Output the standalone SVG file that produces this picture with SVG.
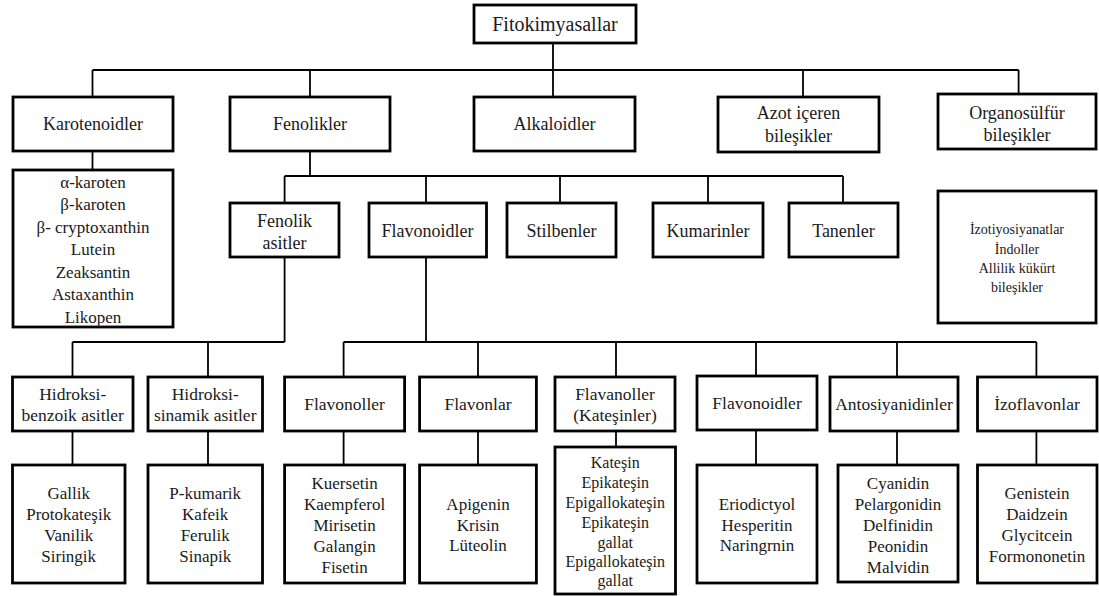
<svg xmlns="http://www.w3.org/2000/svg" width="1099" height="596" viewBox="0 0 1099 596" font-family="Liberation Serif, Times New Roman, serif">
<style>
.box{fill:#fff;stroke:#000;stroke-width:2.8}
.ln{fill:none;stroke:#000;stroke-width:1.8}
text{fill:#1a1a1a;text-anchor:middle}
.t0{font-size:20px}
.t1{font-size:18px}
.t2{font-size:17.5px}
.l{font-size:17px}
.s{font-size:16px}
.xs{font-size:14px}
</style>
<rect width="1099" height="596" fill="#fff"/>
<g id="connectors">
<path class="ln" d="M553,43V70M92.5,70H1018.6M92.5,70V97M310,70V97M553,70V97M803,70V97M1018.6,70V94"/>
<path class="ln" d="M92.5,151V170"/>
<path class="ln" d="M310,151V176M284.6,176H843M284.6,176V203M426,176V203M560,176V203M708,176V203M843,176V203"/>
<path class="ln" d="M284.6,257V342M72.5,342H284.6M72.5,342V377M208,342V377"/>
<path class="ln" d="M426,257V342M343.6,342H1036.4M343.6,342V377M478,342V377M616,342V377M756,342V377M897,342V377M1036.4,342V377"/>
<path class="ln" d="M72.5,431V465M208,431V465M343.6,431V465M478,431V465M616,431V447M756,431V465M897,431V465M1036.4,431V465"/>
</g>
<g id="fitokimyasallar"><rect class="box" x="474" y="5" width="162" height="38"/><text class="t0" x="555" y="31">Fitokimyasallar</text></g>
<g id="karotenoidler"><rect class="box" x="13" y="97" width="160" height="54"/><text class="t1" x="93" y="130">Karotenoidler</text></g>
<g id="fenolikler"><rect class="box" x="230" y="97" width="160" height="54"/><text class="t1" x="310" y="130">Fenolikler</text></g>
<g id="alkaloidler"><rect class="box" x="474" y="97" width="161" height="54"/><text class="t1" x="554.5" y="130">Alkaloidler</text></g>
<g id="azot"><rect class="box" x="718" y="97" width="161" height="55"/><text class="t1" x="798.5" y="119">Azot içeren</text><text class="t1" x="798.5" y="142">bileşikler</text></g>
<g id="organosulfur"><rect class="box" x="938" y="94" width="158" height="55"/><text class="t1" x="1017" y="118.5">Organosülfür</text><text class="t1" x="1017" y="141">bileşikler</text></g>
<g id="karotenoid-list"><rect class="box" x="13" y="170" width="160" height="157"/>
<text class="l" x="93" y="187.5">α-karoten</text><text class="l" x="93" y="210">β-karoten</text><text class="l" x="93" y="232.5">β- cryptoxanthin</text><text class="l" x="93" y="255">Lutein</text><text class="l" x="93" y="277.5">Zeaksantin</text><text class="l" x="93" y="300">Astaxanthin</text><text class="l" x="93" y="322.5">Likopen</text></g>
<g id="fenolik-asitler"><rect class="box" x="230" y="203" width="109" height="54"/><text class="t1" x="284.5" y="227">Fenolik</text><text class="t1" x="284.5" y="249">asitler</text></g>
<g id="flavonoidler"><rect class="box" x="369" y="203" width="117.5" height="54"/><text class="t1" x="427.5" y="237">Flavonoidler</text></g>
<g id="stilbenler"><rect class="box" x="507" y="203" width="109" height="54"/><text class="t1" x="561.5" y="237">Stilbenler</text></g>
<g id="kumarinler"><rect class="box" x="653" y="203" width="110" height="54"/><text class="t1" x="708" y="237">Kumarinler</text></g>
<g id="tanenler"><rect class="box" x="789" y="203" width="109" height="54"/><text class="t1" x="843.5" y="237">Tanenler</text></g>
<g id="organosulfur-list"><rect class="box" x="938" y="191" width="158" height="132"/>
<text class="xs" x="1017" y="234">İzotiyosiyanatlar</text><text class="xs" x="1017" y="253.5">İndoller</text><text class="xs" x="1017" y="273">Allilik  kükürt</text><text class="xs" x="1017" y="292">bileşikler</text></g>
<g id="hidroksi-benzoik"><rect class="box" x="12.5" y="377" width="120.5" height="54"/><text class="t2" x="72.7" y="400">Hidroksi-</text><text class="t2" x="72.7" y="421">benzoik asitler</text></g>
<g id="hidroksi-sinamik"><rect class="box" x="148" y="377" width="114.5" height="54"/><text class="t2" x="205.2" y="400">Hidroksi-</text><text class="t2" x="205.2" y="421">sinamik asitler</text></g>
<g id="flavonoller"><rect class="box" x="284.6" y="377" width="120" height="54"/><text class="t2" x="344.6" y="410">Flavonoller</text></g>
<g id="flavonlar"><rect class="box" x="419.6" y="377" width="116.8" height="54"/><text class="t2" x="478" y="410">Flavonlar</text></g>
<g id="flavanoller"><rect class="box" x="555" y="377" width="120" height="54"/><text class="t2" x="615" y="400">Flavanoller</text><text class="t2" x="615" y="421">(Kateşinler)</text></g>
<g id="flavonoidler2"><rect class="box" x="697" y="376" width="120" height="54"/><text class="t2" x="757" y="409">Flavonoidler</text></g>
<g id="antosiyanidinler"><rect class="box" x="830" y="377" width="128" height="54"/><text class="t2" x="894" y="410">Antosiyanidinler</text></g>
<g id="izoflavonlar"><rect class="box" x="977.5" y="377" width="119.5" height="54"/><text class="t2" x="1037" y="410">İzoflavonlar</text></g>
<g id="benzoik-list"><rect class="box" x="12.5" y="465" width="112.5" height="118"/>
<text class="l" x="68.7" y="499">Gallik</text><text class="l" x="68.7" y="520">Protokateşik</text><text class="l" x="68.7" y="541">Vanilik</text><text class="l" x="68.7" y="562">Siringik</text></g>
<g id="sinamik-list"><rect class="box" x="148" y="465" width="114.5" height="118"/>
<text class="l" x="205.2" y="499">P-kumarik</text><text class="l" x="205.2" y="520">Kafeik</text><text class="l" x="205.2" y="541">Ferulik</text><text class="l" x="205.2" y="562">Sinapik</text></g>
<g id="flavonol-list"><rect class="box" x="284.6" y="465" width="120" height="118"/>
<text class="l" x="344.6" y="489">Kuersetin</text><text class="l" x="344.6" y="510">Kaempferol</text><text class="l" x="344.6" y="531">Mirisetin</text><text class="l" x="344.6" y="552">Galangin</text><text class="l" x="344.6" y="573">Fisetin</text></g>
<g id="flavon-list"><rect class="box" x="419.6" y="465" width="116.8" height="118"/>
<text class="l" x="478" y="510">Apigenin</text><text class="l" x="478" y="530.5">Krisin</text><text class="l" x="478" y="551">Lüteolin</text></g>
<g id="katesin-list"><rect class="box" x="555" y="447" width="120.5" height="147"/>
<text class="s" x="615.2" y="468">Kateşin</text><text class="s" x="615.2" y="488">Epikateşin</text><text class="s" x="615.2" y="508">Epigallokateşin</text><text class="s" x="615.2" y="528">Epikateşin</text><text class="s" x="615.2" y="547.5">gallat</text><text class="s" x="615.2" y="567">Epigallokateşin</text><text class="s" x="615.2" y="586">gallat</text></g>
<g id="flavonoid-list"><rect class="box" x="697" y="465" width="120" height="118"/>
<text class="l" x="757" y="510">Eriodictyol</text><text class="l" x="757" y="530.5">Hesperitin</text><text class="l" x="757" y="551">Naringrnin</text></g>
<g id="antosiyanidin-list"><rect class="box" x="838" y="465" width="120" height="117"/>
<text class="l" x="898" y="489">Cyanidin</text><text class="l" x="898" y="510">Pelargonidin</text><text class="l" x="898" y="531">Delfinidin</text><text class="l" x="898" y="552">Peonidin</text><text class="l" x="898" y="573">Malvidin</text></g>
<g id="izoflavon-list"><rect class="box" x="977.5" y="465" width="119.5" height="118"/>
<text class="l" x="1037" y="499">Genistein</text><text class="l" x="1037" y="520">Daidzein</text><text class="l" x="1037" y="541">Glycitcein</text><text class="l" x="1037" y="562">Formononetin</text></g>
</svg>
